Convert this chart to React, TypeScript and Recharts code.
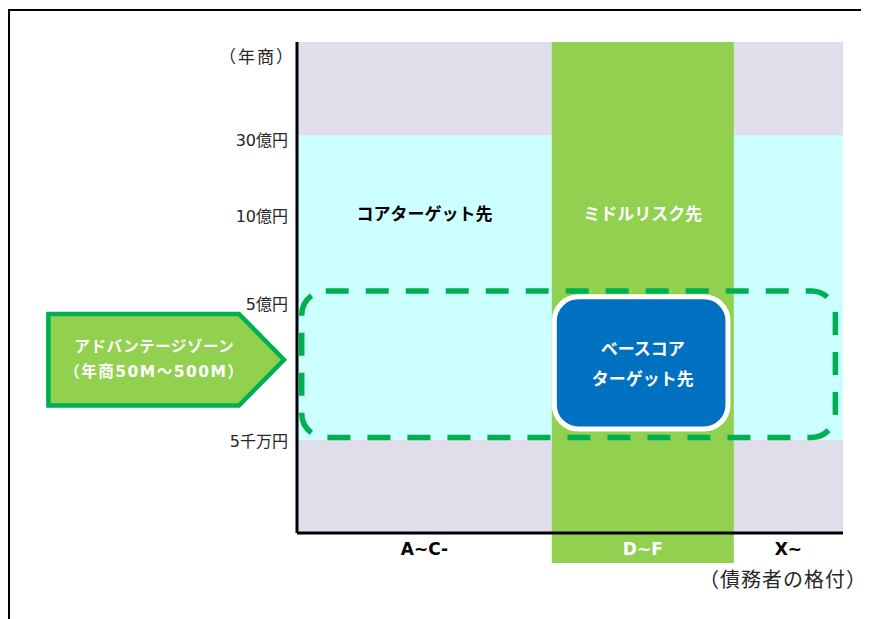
import React from 'react';
import {
  ComposedChart,
  XAxis,
  YAxis,
  ReferenceArea,
  ReferenceLine,
  Scatter,
} from 'recharts';

// ---------------- data ----------------
// Debtor rating columns on an abstract rating scale
const ratingBands = [
  { label: 'A~C-', from: 0, to: 7 },
  { label: 'D~F', from: 7, to: 12 },
  { label: 'X~', from: 12, to: 15 },
];
const xAxisTitle = '（債務者の格付）';

// Annual sales levels on an abstract sales scale
const salesTicks = [
  { label: '（年商）', value: 97 },
  { label: '30億円', value: 80 },
  { label: '10億円', value: 64.4 },
  { label: '5億円', value: 46.6 },
  { label: '5千万円', value: 18.7 },
];

// Horizontal sales bands (lower / core / upper)
const salesBands = [
  { name: 'lower', from: 0, to: 19 },
  { name: 'core', from: 19, to: 81 },
  { name: 'upper', from: 81, to: 100 },
];

// Middle-risk column (D~F), extends below the axis
const middleRiskZone = { x1: 7, x2: 12, y1: -6.1, y2: 100 };
// Advantage zone (sales 50M–500M)
const advantageZone = { x1: 0.13, x2: 14.79, y1: 19.45, y2: 49.29 };
// Base core target box
const baseCoreZone = { x1: 7.07, x2: 11.84, y1: 21.2, y2: 48.1 };
// Arrow pointing to the advantage zone (left of the axis)
const advantageArrow = { x1: -6.83, x2: -0.357, y1: 25.97, y2: 44.6 };
const advantageArrowLines = ['アドバンテージゾーン', '（年商50M～500M）'];

const darkLabels = [{ x: 3.5, y: 65, text: 'コアターゲット先' }];
const whiteLabels = [
  { x: 9.5, y: 65, text: 'ミドルリスク先' },
  { x: 9.5, y: 34.4, text: 'ベースコア\nターゲット先' },
];

// ---------------- styles ----------------
const FONT = '"DejaVu Sans", "Noto Sans CJK JP", sans-serif';
const BAND_FILLS: Record<string, string> = {
  lower: '#E1DEEB',
  core: '#CCFFFF',
  upper: '#E1DEEB',
};
const GREEN = '#92D050';
const DARK_GREEN = '#00B050';
const BLUE = '#0070C0';
const HIGHLIGHT_BAND = 'D~F';

const bandCenter = (b: { from: number; to: number }) => (b.from + b.to) / 2;

const YTick = (props: any) => {
  const { x, y, payload } = props;
  const t = salesTicks.find((s) => s.value === payload.value);
  const label = t ? t.label : '';
  const isTitle = label.startsWith('（');
  return (
    <text
      x={isTitle ? x + 6 : x - 1}
      y={y}
      textAnchor="end"
      dominantBaseline="central"
      fontFamily={FONT}
      fontSize={isTitle ? 17 : 16}
      letterSpacing={isTitle ? 2 : 0}
      fill="#262626"
    >
      {label}
    </text>
  );
};

const XTick = (props: any) => {
  const { x, y, payload } = props;
  const b = ratingBands.find((r) => Math.abs(bandCenter(r) - payload.value) < 1e-6);
  const label = b ? b.label : '';
  return (
    <text
      x={x}
      y={y + 8}
      textAnchor="middle"
      dominantBaseline="central"
      fontFamily={FONT}
      fontSize={17}
      fontWeight={700}
      fill={label === HIGHLIGHT_BAND ? '#ffffff' : '#000000'}
    >
      {label}
    </text>
  );
};

const XTitle = (props: any) => {
  const vb = props.viewBox || {};
  return (
    <text
      x={vb.x + vb.width + 24}
      y={vb.y + 47}
      textAnchor="end"
      dominantBaseline="central"
      fontFamily={FONT}
      fontSize={20}
      letterSpacing={1}
      fill="#262626"
    >
      {xAxisTitle}
    </text>
  );
};

const DashedZone = (p: any) => (
  <rect
    x={p.x}
    y={p.y}
    width={p.width}
    height={p.height}
    rx={24}
    ry={24}
    fill="none"
    stroke={DARK_GREEN}
    strokeWidth={5.5}
    strokeDasharray="23 17"
  />
);

const BaseCoreBox = (p: any) => (
  <rect
    x={p.x}
    y={p.y}
    width={p.width}
    height={p.height}
    rx={24}
    ry={24}
    fill={BLUE}
    stroke="#ffffff"
    strokeWidth={5}
  />
);

const ArrowShape = (p: any) => {
  const { x, y, width: w, height: h } = p;
  const notch = 45;
  const pts = `${x},${y} ${x + w - notch},${y} ${x + w},${y + h / 2} ${x + w - notch},${y + h} ${x},${y + h}`;
  const cx = x + w * 0.45;
  const cy = y + h / 2;
  return (
    <g>
      <polygon points={pts} fill={GREEN} stroke={DARK_GREEN} strokeWidth={4.5} />
      {advantageArrowLines.map((t, i) => (
        <text
          key={i}
          x={cx}
          y={cy + (i - 0.5) * 25}
          textAnchor="middle"
          dominantBaseline="central"
          fontFamily={FONT}
          fontSize={15.5}
          fontWeight={700}
          letterSpacing={i === 0 ? 0.5 : 1.5}
          fill="#ffffff"
        >
          {t}
        </text>
      ))}
    </g>
  );
};

const makeLabelShape = (color: string) => (p: any) => {
  const text = p.payload && p.payload.text ? String(p.payload.text) : '';
  const lines = text.split('\n');
  const lh = 30;
  return (
    <g>
      {lines.map((t, i) => (
        <text
          key={i}
          x={p.cx}
          y={p.cy + (i - (lines.length - 1) / 2) * lh}
          textAnchor="middle"
          dominantBaseline="central"
          fontFamily={FONT}
          fontSize={17}
          fontWeight={700}
          fill={color}
        >
          {t}
        </text>
      ))}
    </g>
  );
};

export default function App() {
  return (
    <div
      style={{
        width: 861,
        height: 610,
        marginTop: 1,
        borderTop: '2px solid #000',
        borderLeft: '2px solid #000',
        boxSizing: 'border-box',
        overflow: 'hidden',
      }}
    >
      <style>{'html,body{overflow:hidden}'}</style>
      <ComposedChart
        width={859}
        height={608}
        margin={{ top: 31, right: 26, bottom: 46, left: 207 }}
      >
        <XAxis
          type="number"
          dataKey="x"
          domain={[0, 15]}
          allowDataOverflow
          ticks={ratingBands.map(bandCenter)}
          interval={0}
          axisLine={false}
          tickLine={false}
          tick={<XTick />}
          height={40}
          label={(props: any) => <XTitle {...props} />}
        />
        <YAxis
          type="number"
          dataKey="y"
          domain={[0, 100]}
          allowDataOverflow
          ticks={salesTicks.map((s) => s.value)}
          interval={0}
          axisLine={false}
          tickLine={false}
          tick={<YTick />}
          width={80}
        />
        {salesBands.map((b) => (
          <ReferenceArea
            key={b.name}
            x1={0}
            x2={15}
            y1={b.from}
            y2={b.to}
            fill={BAND_FILLS[b.name]}
            fillOpacity={1}
            stroke="none"
            ifOverflow="visible"
          />
        ))}
        <ReferenceArea
          {...middleRiskZone}
          fill={GREEN}
          fillOpacity={1}
          stroke="none"
          ifOverflow="visible"
        />
        <ReferenceArea {...advantageZone} ifOverflow="visible" shape={DashedZone} />
        <ReferenceArea {...baseCoreZone} ifOverflow="visible" shape={BaseCoreBox} />
        <ReferenceArea {...advantageArrow} ifOverflow="visible" shape={ArrowShape} />
        <ReferenceLine x={0} stroke="#000" strokeWidth={3} ifOverflow="visible" />
        <ReferenceLine y={0} stroke="#000" strokeWidth={3} ifOverflow="visible" />
        <Scatter
          data={darkLabels}
          dataKey="y"
          isAnimationActive={false}
          shape={makeLabelShape('#000000')}
        />
        <Scatter
          data={whiteLabels}
          dataKey="y"
          isAnimationActive={false}
          shape={makeLabelShape('#ffffff')}
        />
      </ComposedChart>
    </div>
  );
}
